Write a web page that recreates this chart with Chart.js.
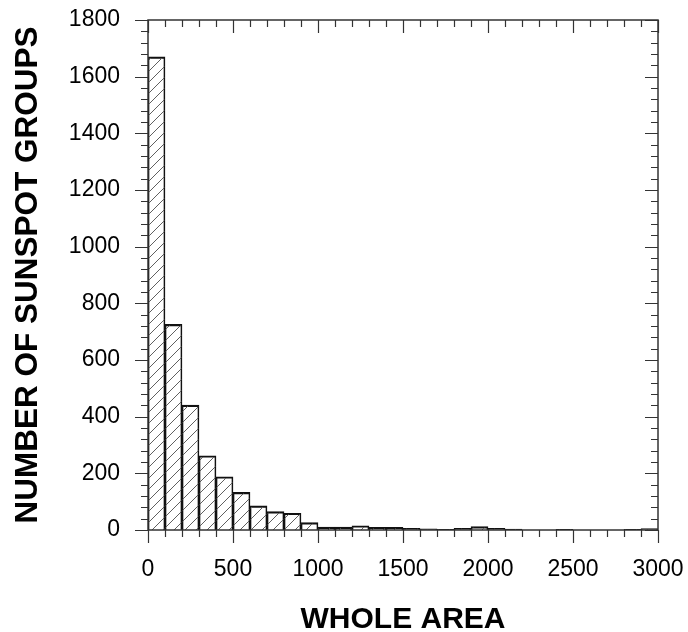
<!DOCTYPE html>
<html>
<head>
<meta charset="utf-8">
<script src="https://cdn.jsdelivr.net/npm/chart.js@4.4.0/dist/chart.umd.min.js"></script>
<style>
  html, body { margin: 0; padding: 0; background: #ffffff; }
  #wrap { width: 688px; height: 632px; }
</style>
</head>
<body>
<div id="wrap"><canvas id="c" width="688" height="632"></canvas></div>
<script>
// Histogram bins (bin centres, width 100) and counts
const binCenters = [50, 150, 250, 350, 450, 550, 650, 750, 850, 950,
                    1050, 1150, 1250, 1350, 1450, 1550, 1650, 1750, 1850, 1950,
                    2050, 2150, 2250, 2350, 2450, 2550, 2650, 2750, 2850, 2950];
const counts = [1670, 726, 441, 262, 188, 133, 85, 65, 59, 26,
                10, 10, 15, 9, 9, 6, 4, 2, 6, 12,
                6, 3, 0, 0, 2, 0, 0, 0, 2, 5];
const xTickLabels = ['0', '500', '1000', '1500', '2000', '2500', '3000'];
const yTickLabels = ['0', '200', '400', '600', '800', '1000', '1200', '1400', '1600', '1800'];
const xTitle = 'WHOLE AREA';
const yTitle = 'NUMBER OF SUNSPOT GROUPS';

function hatchPattern() {
  const s = 11;
  const p = document.createElement('canvas');
  p.width = s; p.height = s;
  const g = p.getContext('2d');
  g.strokeStyle = '#606060';
  g.lineWidth = 1;
  g.beginPath();
  g.moveTo(-1, s + 1); g.lineTo(s + 1, -1);
  g.moveTo(-1 - s, s + 1); g.lineTo(1, -1);
  g.moveTo(s - 1, 2 * s + 1); g.lineTo(2 * s + 1, s - 1);
  g.stroke();
  return g.createPattern(p, 'repeat');
}
const ctx0 = document.getElementById('c').getContext('2d');
const hatch = hatchPattern();

const frameTicks = {
  id: 'frameTicks',
  afterDatasetsDraw(chart) {
    const {ctx, chartArea: a, scales: {x, y}} = chart;
    ctx.save();
    ctx.strokeStyle = '#333333';
    ctx.lineWidth = 1.5;
    ctx.strokeRect(a.left, a.top, a.right - a.left, a.bottom - a.top);
    ctx.lineWidth = 1.2;
    ctx.beginPath();
    // x ticks: every 100, major every 500
    for (let v = 0; v <= 3000; v += 100) {
      const px = Math.round(x.getPixelForValue(v)) + 0.5;
      const L = (v % 500 === 0) ? 13 : 7;
      ctx.moveTo(px, a.bottom); ctx.lineTo(px, a.bottom + L);
      ctx.moveTo(px, a.top); ctx.lineTo(px, a.top + L);
    }
    // y ticks: every 40, major every 200
    for (let v = 0; v <= 1800; v += 40) {
      const py = Math.round(y.getPixelForValue(v)) + 0.5;
      const L = (v % 200 === 0) ? 13 : 7;
      ctx.moveTo(a.left, py); ctx.lineTo(a.left - L, py);
      ctx.moveTo(a.right, py); ctx.lineTo(a.right - L, py);
    }
    ctx.stroke();
    ctx.restore();
  }
};

new Chart(ctx0, {
  type: 'bar',
  data: {
    datasets: [{
      data: binCenters.map((c, i) => ({x: c, y: counts[i]})),
      backgroundColor: hatch,
      borderColor: '#111111',
      borderWidth: { top: 1.5, left: 1, right: 1, bottom: 0 },
      borderSkipped: 'bottom',
      barPercentage: 1.0,
      categoryPercentage: 1.0
    }]
  },
  options: {
    responsive: false,
    animation: false,
    events: [],
    layout: { padding: { top: 20, right: 30, left: 0, bottom: 0 } },
    plugins: { legend: { display: false }, tooltip: { enabled: false } },
    scales: {
      x: {
        type: 'linear',
        min: 0, max: 3000,
        offset: false,
        grid: { display: false, drawTicks: false, offset: false },
        border: { display: false },
        ticks: {
          stepSize: 500,
          padding: 26,
          color: '#000000',
          font: { family: 'Liberation Sans, Arial, sans-serif', size: 23 },
          maxRotation: 0,
          callback: (v) => { const i = v / 500; return Number.isInteger(i) ? xTickLabels[i] : ''; }
        },
        title: {
          display: true, text: xTitle, color: '#000000',
          font: { family: 'Liberation Sans, Arial, sans-serif', size: 30, weight: 'bold', lineHeight: 0.8 },
          padding: { top: 0, bottom: 0 }
        },
        afterFit(scale) { scale.height = 102; scale.paddingLeft = 0; scale.paddingRight = 0; }
      },
      y: {
        min: 0, max: 1800,
        grid: { display: false, drawTicks: false },
        border: { display: false },
        ticks: {
          stepSize: 200,
          padding: 28,
          color: '#000000',
          font: { family: 'Liberation Sans, Arial, sans-serif', size: 23 },
          callback: (v) => { const i = v / 200; return Number.isInteger(i) ? yTickLabels[i] : ''; }
        },
        title: {
          display: true, text: yTitle, color: '#000000',
          font: { family: 'Liberation Sans, Arial, sans-serif', size: 31.5, weight: 'bold', lineHeight: 1 },
          padding: { top: 13, bottom: 0 }
        },
        afterFit(scale) { scale.width = 148; scale.paddingTop = 0; scale.paddingBottom = 0; }
      }
    }
  },
  plugins: [frameTicks]
});
</script>
</body>
</html>
